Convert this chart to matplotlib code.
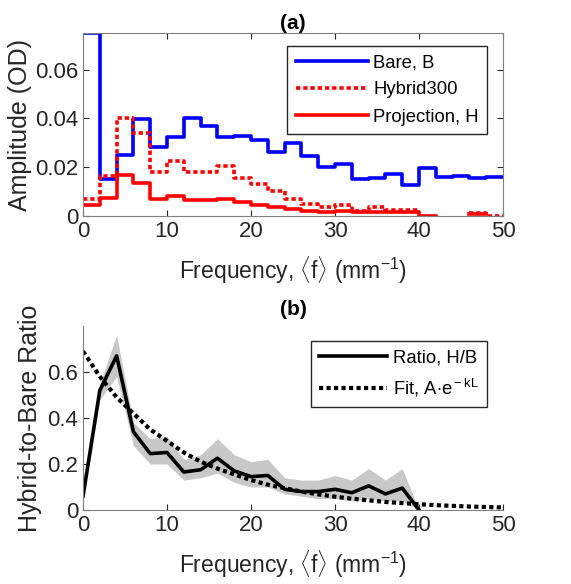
import numpy as np
import matplotlib.pyplot as plt

plt.rcParams['font.family'] = ['Liberation Sans', 'DejaVu Sans']
plt.rcParams['mathtext.fontset'] = 'custom'
plt.rcParams['mathtext.rm'] = 'Liberation Sans'
plt.rcParams['mathtext.it'] = 'Liberation Sans:italic'

# bin edges for the step spectra (mm^-1)
edges = np.arange(0, 51, 2)

bare = [0.075, 0.0150, 0.0250, 0.0397, 0.0283, 0.0324, 0.0400, 0.0367, 0.0324, 0.0327,
        0.0310, 0.0263, 0.0300, 0.0245, 0.0200, 0.0215, 0.0150, 0.0158, 0.0174, 0.0127,
        0.0195, 0.0160, 0.0163, 0.0157, 0.0160]
hybrid300 = [0.0069, 0.0163, 0.0400, 0.0340, 0.0180, 0.0226, 0.0180, 0.0180, 0.0205, 0.0154,
             0.0133, 0.0102, 0.0072, 0.0049, 0.0038, 0.0045, 0.0022, 0.0038, 0.0024, 0.0024,
             np.nan, np.nan, np.nan, 0.0014, 0.0002]
projection = [0.0045, 0.0076, 0.0167, 0.0136, 0.0068, 0.0082, 0.0065, 0.0065, 0.0072, 0.0056,
              0.0045, 0.0038, 0.0027, 0.0022, 0.0016, 0.0019, 0.0016, 0.0016, 0.0016, 0.0016,
              0.0, np.nan, np.nan, 0.0008, np.nan]

# ratio H/B with uncertainty band
freq = np.arange(0, 41, 2)
ratio = [0.06, 0.52, 0.67, 0.34, 0.245, 0.25, 0.165, 0.175, 0.225, 0.17, 0.145,
         0.15, 0.09, 0.08, 0.08, 0.09, 0.075, 0.105, 0.07, 0.095, 0.0]
ratio_hi = [0.06, 0.55, 0.76, 0.38, 0.31, 0.32, 0.22, 0.24, 0.31, 0.24, 0.21,
            0.22, 0.14, 0.13, 0.13, 0.15, 0.13, 0.18, 0.13, 0.18, 0.0]
ratio_lo = [0.06, 0.48, 0.58, 0.28, 0.20, 0.20, 0.13, 0.14, 0.16, 0.12, 0.10,
            0.10, 0.07, 0.06, 0.05, 0.05, 0.04, 0.05, 0.04, 0.04, 0.0]

fit_freq = np.arange(0, 51, 2)
fit_vals = [0.69, 0.58, 0.49, 0.42, 0.35, 0.30, 0.25, 0.21, 0.18, 0.155, 0.13, 0.11, 0.095,
            0.08, 0.068, 0.058, 0.049, 0.042, 0.035, 0.030, 0.025, 0.021, 0.018, 0.015,
            0.013, 0.011]

spine_col = '#262626'
xlab = r'Frequency, $\langle$f$\rangle$ (mm$^{-1}$)'
fig = plt.figure(figsize=(5.71, 5.84), dpi=100)

# ---- (a) spectra
ax1 = fig.add_axes([0.1454, 0.630, 0.7356, 0.3135])
def stairs_xy(vals):
    return edges, np.append(vals, vals[-1])
x, y = stairs_xy(bare)
ax1.step(x, y, where='post', color='#0000ff', lw=2.6, label='Bare, B')
x, y = stairs_xy(hybrid300)
ax1.step(x, y, where='post', color='#ff0000', lw=2.6, ls=(0, (1.2, 0.8)), label='Hybrid300')
x, y = stairs_xy(projection)
ax1.step(x, y, where='post', color='#ff0000', lw=2.6, label='Projection, H')
ax1.set_xlim(0, 50)
ax1.set_ylim(0, 0.075)
ax1.set_xticks([0, 10, 20, 30, 40, 50])
ax1.set_yticks([0, 0.02, 0.04, 0.06])
ax1.set_yticklabels(['0', '0.02', '0.04', '0.06'])
ax1.tick_params(direction='in', top=True, right=True, labelsize=16, colors=spine_col, length=4)
for s in ax1.spines.values():
    s.set_color('#808080')
ax1.set_ylabel('Amplitude (OD)', fontsize=18, color=spine_col, labelpad=2)
ax1.set_xlabel(xlab, fontsize=16.5, color=spine_col, labelpad=9)
ax1.set_title('(a)', fontsize=15, fontweight='bold', pad=3)
leg = ax1.legend(loc='upper right', bbox_to_anchor=(0.962, 0.929), borderaxespad=0,
                 fontsize=13.3, handlelength=3.9, fancybox=False, framealpha=1,
                 borderpad=0.45, labelspacing=0.55, handletextpad=0.3)
leg.get_frame().set_edgecolor('#262626')

# ---- (b) ratio
ax2 = fig.add_axes([0.1454, 0.1267, 0.7356, 0.3152])
ax2.fill_between(freq, ratio_lo, ratio_hi, color='#c8c8c8', lw=0)
ax2.plot(freq, ratio, color='black', lw=2.6, label='Ratio, H/B')
ax2.plot(fit_freq, fit_vals, color='black', lw=3, ls=(0, (1, 0.8)), label=r'Fit, A$\cdot$e$^{\rm -kL}$')
ax2.set_xlim(0, 50)
ax2.set_ylim(0, 0.8)
ax2.set_xticks([0, 10, 20, 30, 40, 50])
ax2.set_yticks([0, 0.2, 0.4, 0.6])
ax2.set_yticklabels(['0', '0.2', '0.4', '0.6'])
ax2.tick_params(direction='in', labelsize=16, colors=spine_col, length=4)
ax2.spines['top'].set_visible(False)
ax2.spines['right'].set_visible(False)
ax2.spines['left'].set_color('#808080')
ax2.spines['bottom'].set_color('#808080')
ax2.set_ylabel('Hybrid-to-Bare Ratio', fontsize=18, color=spine_col, labelpad=4)
ax2.set_xlabel(xlab, fontsize=16.5, color=spine_col, labelpad=9)
ax2.set_title('(b)', fontsize=15, fontweight='bold', pad=8)
leg2 = ax2.legend(loc='upper right', bbox_to_anchor=(0.962, 0.918), borderaxespad=0,
                  fontsize=13.3, handlelength=3.7, fancybox=False, framealpha=1,
                  borderpad=0.45, labelspacing=0.55, handletextpad=0.3)
leg2.get_frame().set_edgecolor('#262626')

fig.savefig('out.png', dpi=100)
